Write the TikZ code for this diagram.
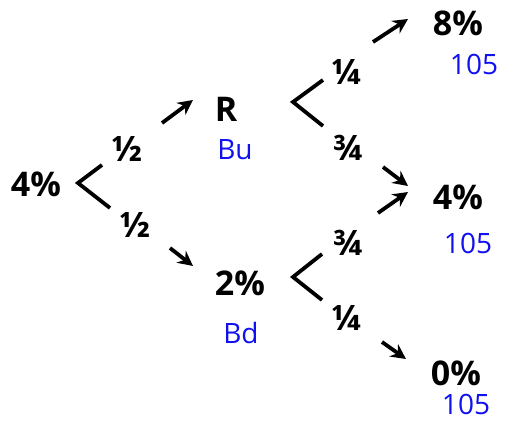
\documentclass[tikz,border=0pt]{standalone}
\usepackage{fontspec}
\setmainfont{Open Sans}
\usetikzlibrary{arrows.meta}
\definecolor{inkBlue}{HTML}{1010F0}

\begin{document}
\begin{tikzpicture}[
    x=1pt, y=-1pt,
    pct/.style={font=\fontsize{34}{36}\selectfont\bfseries, inner sep=0pt},
    frac/.style={font=\fontsize{35}{37}\selectfont\bfseries, inner sep=0pt},
    hand/.style={font=\fontsize{28}{30}\selectfont\color{inkBlue}, inner sep=0pt},
    fork/.style={line width=3.8pt, line join=miter},
    arr/.style={line width=3.8pt, -{Stealth[length=15pt, width=15pt, inset=5pt]}},
  ]
    \useasboundingbox (0,0) rectangle (507,422);

    \node[pct] (n0) at (36,184) {4\%};
    \node[pct] (nu) at (226,109) {R};
    \node[pct] (nd) at (240,283) {2\%};
    \node[pct] (nuu) at (458,23) {8\%};
    \node[pct] (nud) at (458,197) {4\%};
    \node[pct] (ndd) at (456,373) {0\%};

    \node[hand] (hu) at (235,150) {Bu};
    \node[hand] (hd) at (241,333) {Bd};
    \node[hand] (huu) at (474,64) {105};
    \node[hand] (hud) at (468,243) {105};
    \node[hand] (hdd) at (466,404) {105};

    \node[frac] (f0u) at (127,149) {½};
    \node[frac] (f0d) at (135,225) {½};
    \node[frac] (fuu) at (347,72) {¼};
    \node[frac] (fud) at (348,148) {¾};
    \node[frac] (fdu) at (348,243) {¾};
    \node[frac] (fdd) at (347,318) {¼};

    \coordinate (k0t) at (102,165);
    \coordinate (k0v) at (78,183);
    \coordinate (k0b) at (110,208);
    \coordinate (kut) at (323,80);
    \coordinate (kuv) at (293,102);
    \coordinate (kub) at (323,126);
    \coordinate (kdt) at (322,254);
    \coordinate (kdv) at (293,277);
    \coordinate (kdb) at (322,300);

    \draw[fork] (k0t) -- (k0v) -- (k0b);
    \draw[fork] (kut) -- (kuv) -- (kub);
    \draw[fork] (kdt) -- (kdv) -- (kdb);

    \coordinate (a0u) at (162,123);
    \coordinate (b0u) at (193,100);
    \coordinate (a0d) at (170,248);
    \coordinate (b0d) at (193,266);
    \coordinate (auu) at (373,42);
    \coordinate (buu) at (408,19);
    \coordinate (aud) at (383,167);
    \coordinate (bud) at (408,186);
    \coordinate (adu) at (378,213);
    \coordinate (bdu) at (408,192);
    \coordinate (add) at (382,342);
    \coordinate (bdd) at (406,359);

    \draw[arr] (a0u) -- (b0u);
    \draw[arr] (a0d) -- (b0d);
    \draw[arr] (auu) -- (buu);
    \draw[arr] (aud) -- (bud);
    \draw[arr] (adu) -- (bdu);
    \draw[arr] (add) -- (bdd);
\end{tikzpicture}
\end{document}
